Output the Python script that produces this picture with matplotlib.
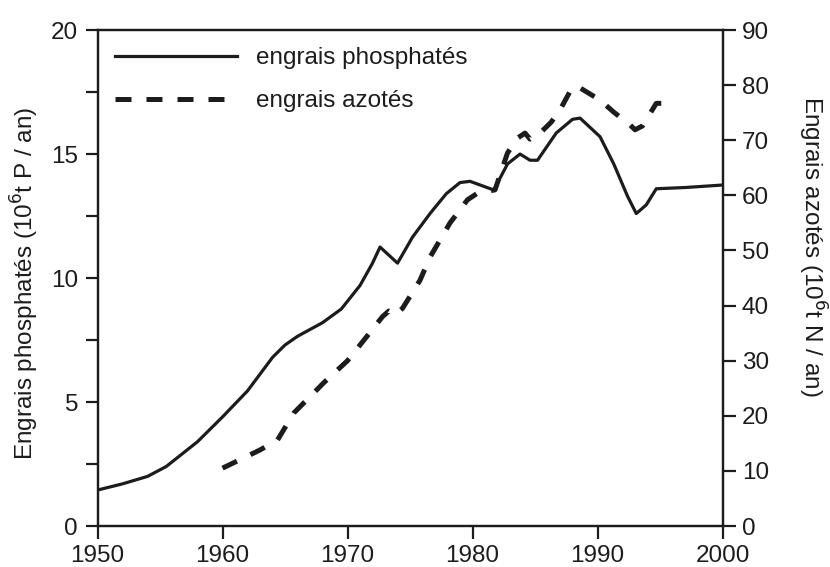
import matplotlib.pyplot as plt
from matplotlib.ticker import MultipleLocator

plt.rcParams['font.family'] = ['Liberation Sans', 'DejaVu Sans']

# Phosphate fertilisers (left axis, 10^6 t P / an)
phos_years = [1950, 1952, 1954, 1955.5, 1958, 1960, 1962, 1964, 1965, 1966,
              1968, 1969.5, 1971, 1972, 1972.6, 1974, 1975.2, 1976.6, 1977.9,
              1979, 1979.8, 1981.7, 1982.8, 1983.8, 1984.6, 1985.2, 1986.7,
              1988, 1988.6, 1990.2, 1991.3, 1992.4, 1993.1, 1993.9, 1994.7,
              1997, 2000]
phos_values = [1.45, 1.7, 2.0, 2.4, 3.4, 4.4, 5.45, 6.8, 7.3, 7.65,
               8.2, 8.75, 9.7, 10.6, 11.25, 10.6, 11.65, 12.6, 13.4,
               13.85, 13.9, 13.55, 14.6, 15.0, 14.75, 14.75, 15.85,
               16.4, 16.45, 15.7, 14.6, 13.3, 12.6, 12.95, 13.6,
               13.65, 13.75]

# Nitrogen fertilisers (right axis, 10^6 t N / an)
azote_years = [1960, 1963, 1964.4, 1965.7, 1968.1, 1970, 1971.3, 1972.8, 1973.3,
               1973.8, 1974.4, 1975.8, 1976.6, 1978.2, 1979.6, 1980.4, 1981.8,
               1982.8, 1983.6, 1984.2, 1984.6, 1985.4, 1986.3, 1987, 1988,
               1988.6, 1990.2, 1991.3, 1992.6, 1993, 1993.6, 1994.7, 1995.1]
azote_values = [10.5, 13.8, 15.6, 20.5, 26, 30, 33.7, 38.0, 39.0,
                38.3, 39.5, 44.6, 48.8, 55, 59.2, 60.4, 61,
                67.7, 70.4, 71.3, 70.2, 71.3, 73.3, 75.5, 79.7,
                79.5, 77.3, 75.1, 72.8, 71.9, 72.6, 76.7, 76.7]

ink = '#1c1c1c'
fs = 17.5

fig = plt.figure(figsize=(8.3, 5.67), dpi=100)
ax = fig.add_axes([0.1175, 0.0723, 0.753, 0.8747])
ax2 = ax.twinx()

l1, = ax.plot(phos_years, phos_values, color=ink, lw=2.3, label='engrais phosphatés')
l2, = ax2.plot(azote_years, azote_values, color=ink, lw=3.6, label='engrais azotés')
l2.set_dashes((3.2, 3.0))

ax.set_xlim(1950, 2000)
ax.set_ylim(0, 20)
ax2.set_ylim(0, 90)

ax.xaxis.set_major_locator(MultipleLocator(10))
ax.yaxis.set_major_locator(MultipleLocator(5))
ax.yaxis.set_minor_locator(MultipleLocator(2.5))
ax2.yaxis.set_major_locator(MultipleLocator(10))

for a in (ax, ax2):
    for s in a.spines.values():
        s.set_linewidth(1.6)
        s.set_color(ink)
    a.tick_params(which='both', direction='out', length=9, width=1.6,
                  color=ink, labelcolor=ink, labelsize=fs, pad=5)

fig.text(0.03, 0.50, 'Engrais phosphatés (10$^6$t P / an)', rotation=90,
         ha='center', va='center', fontsize=fs, color=ink)
fig.text(0.978, 0.565, 'Engrais azotés (10$^6$t N / an)', rotation=-90,
         ha='center', va='center', fontsize=fs, color=ink)

ax.legend(handles=[l1, l2], loc='upper left', bbox_to_anchor=(0.028, 0.965),
          frameon=False, fontsize=fs, handlelength=5.0, handletextpad=0.8,
          labelspacing=0.85, borderpad=0, borderaxespad=0, labelcolor=ink)

fig.savefig('out.png', dpi=100)
